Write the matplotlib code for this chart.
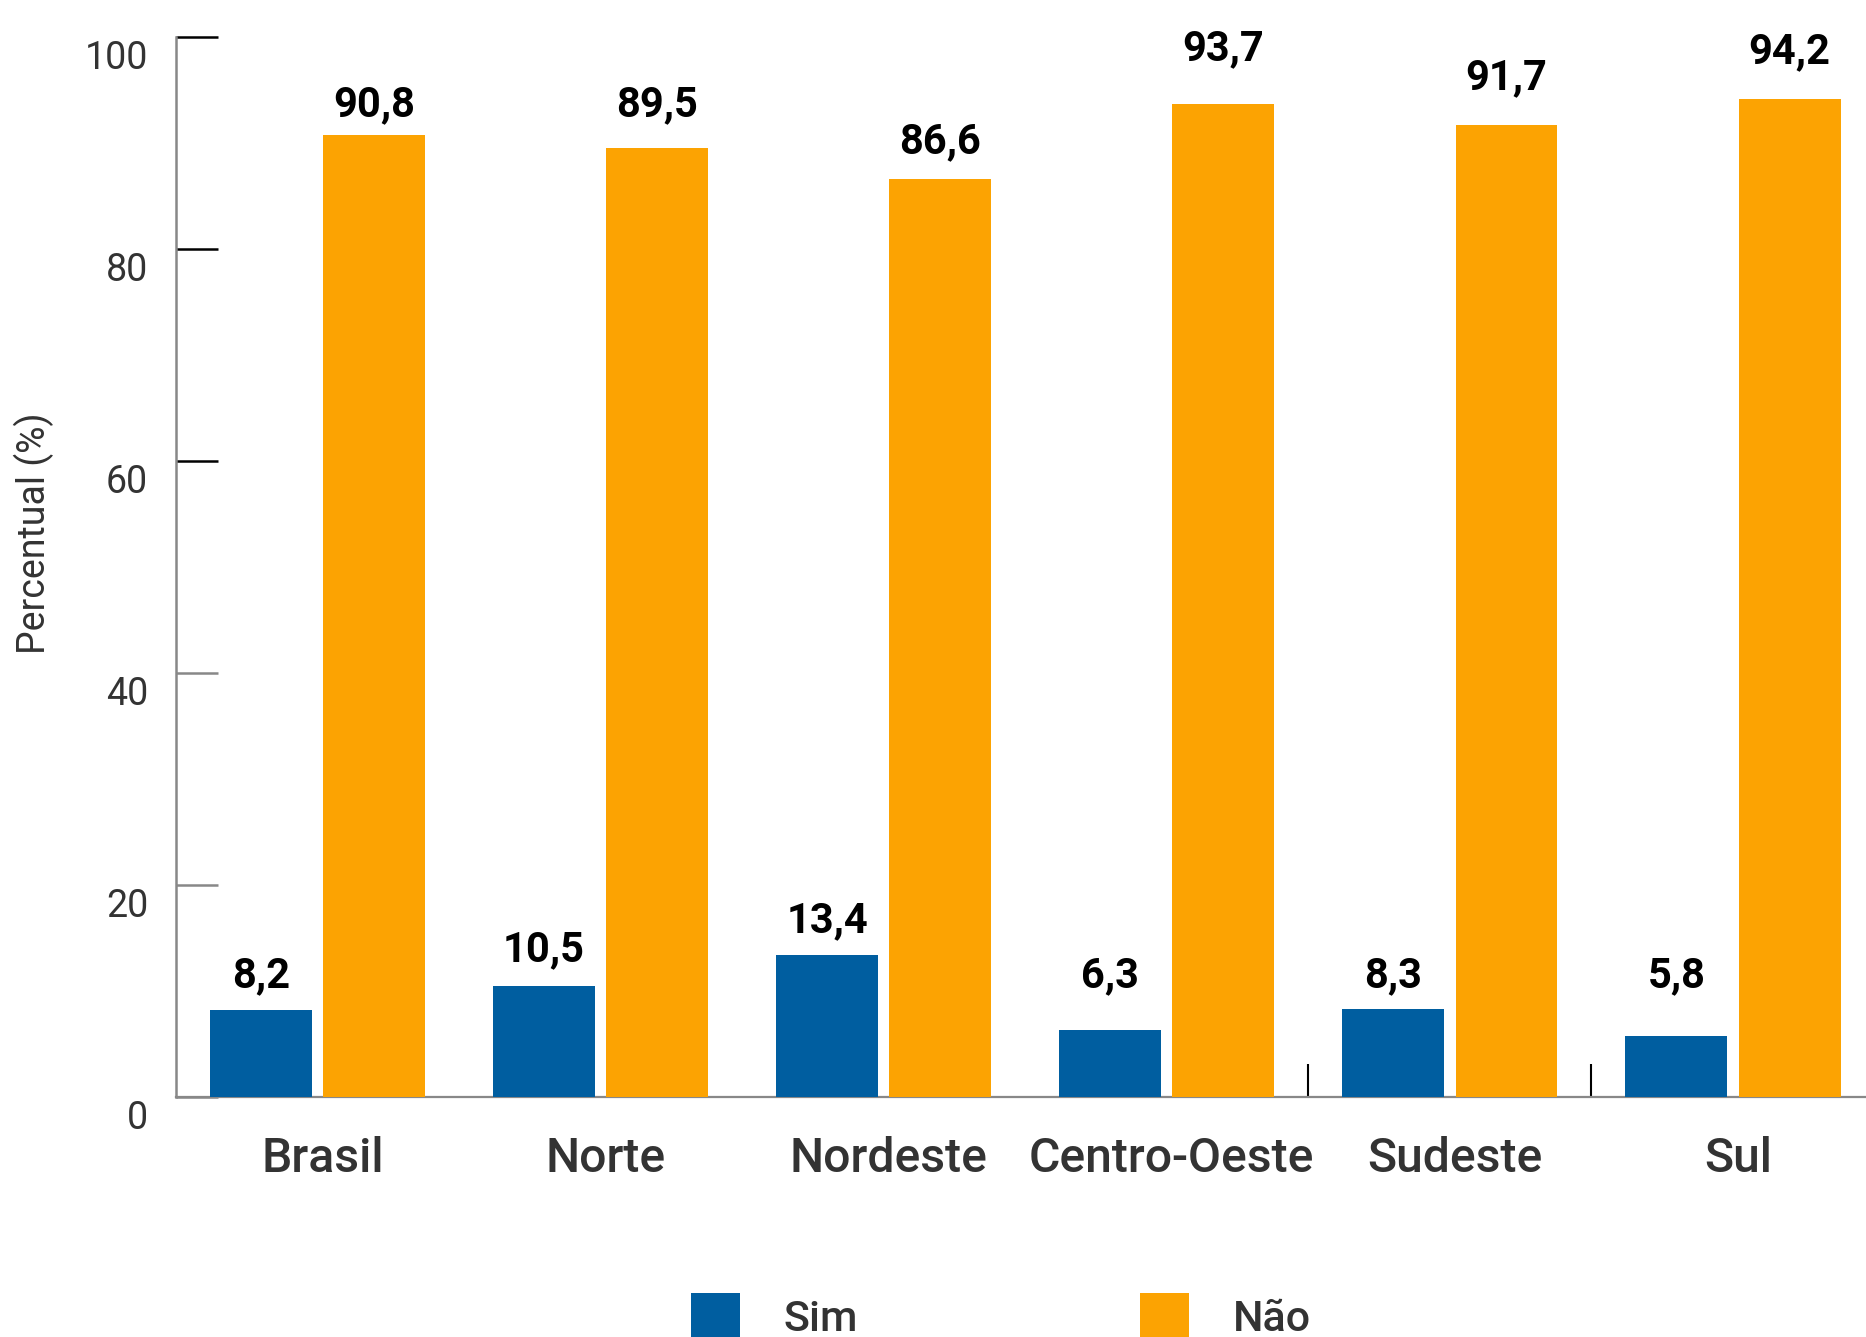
import matplotlib
matplotlib.use("Agg")
import matplotlib.pyplot as plt
import matplotlib.transforms as mtransforms
import numpy as np

plt.rcParams['font.family'] = ['Roboto', 'DejaVu Sans']

# data
regioes = ['Brasil', 'Norte', 'Nordeste', 'Centro-Oeste', 'Sudeste', 'Sul']
sim = [8.2, 10.5, 13.4, 6.3, 8.3, 5.8]
nao = [90.8, 89.5, 86.6, 93.7, 91.7, 94.2]
ticks_cinza = [0, 20, 40]
ticks_pretos = [60, 80, 100]

# distancia (pt) entre o topo da barra e o rotulo, como no original
desloc_sim = [16.6, 17.4, 16.6, 31.1, 15.7, 34.6]
desloc_nao = [13.1, 23.4, 18.3, 31.1, 26.0, 25.1]

cor_sim = '#005EA0'
cor_nao = '#FCA302'
cinza = '#333333'

fig = plt.figure(figsize=(18.66, 13.37), dpi=100)
ax = fig.add_axes([0.0943, 0.1795, 0.9057, 0.7928])

x = np.arange(len(regioes))
w = 0.36
b1 = ax.bar(x - 0.2, sim, w, color=cor_sim, label='Sim', zorder=3)
b2 = ax.bar(x + 0.2, nao, w, color=cor_nao, label='Não', zorder=3)

def rotular(barras, valores, desloc):
    for b, v, d in zip(barras, valores, desloc):
        ax.annotate(f'{v:.1f}'.replace('.', ','),
                    (b.get_x() + b.get_width() / 2, b.get_height()),
                    xytext=(0, d), textcoords='offset points',
                    ha='center', va='baseline', fontsize=30,
                    fontweight='bold', color='black')

rotular(b1, sim, desloc_sim)
rotular(b2, nao, desloc_nao)

ax.set_xlim(-0.5, 5.47)
ax.set_ylim(0, 100)

for s in ['top', 'right']:
    ax.spines[s].set_visible(False)
ax.spines['left'].set_color('#888888')
ax.spines['left'].set_linewidth(1.8)
ax.spines['bottom'].set_color('#888888')
ax.spines['bottom'].set_linewidth(1.6)

# ticks do eixo y: cinza em 0-40, pretos em 60-100
ax.set_yticks(ticks_cinza)
ax.set_yticklabels([str(t) for t in ticks_cinza])
ax.set_yticks(ticks_pretos, minor=True)
ax.set_yticklabels([str(t) for t in ticks_pretos], minor=True)
ax.tick_params(axis='y', which='major', direction='in', length=30, width=1.8,
               color='#888888', pad=20, labelsize=27, labelcolor=cinza)
ax.tick_params(axis='y', which='minor', direction='in', length=30, width=1.8,
               color='black', pad=20, labelsize=27, labelcolor=cinza)
desloca = mtransforms.ScaledTranslation(0, -0.17, fig.dpi_scale_trans)
for lab in ax.get_yticklabels() + ax.get_yticklabels(minor=True):
    lab.set_transform(lab.get_transform() + desloca)

ax.set_xticks(x)
ax.set_xticklabels(regioes, fontsize=34.7, fontweight='medium', color=cinza)
ax.tick_params(axis='x', length=0, pad=28)
desloca_x = mtransforms.ScaledTranslation(0.05, 0, fig.dpi_scale_trans)
for lab in ax.get_xticklabels():
    lab.set_transform(lab.get_transform() + desloca_x)
ax.set_xticks([3.5, 4.5], minor=True)
ax.tick_params(axis='x', which='minor', direction='in', length=24,
               width=1.5, color='black')

ax.set_ylabel('Percentual (%)', fontsize=27, color=cinza)
ax.yaxis.set_label_coords(-0.072, 0.532)

fig.legend(handles=[b1, b2], labels=['Sim', 'Não'], loc='center',
           bbox_to_anchor=(0.5364, 0.0155), ncol=2, frameon=False,
           prop={'size': 31, 'weight': 'medium'}, labelcolor=cinza,
           handlelength=1.14, handleheight=1.3, handletextpad=1.02,
           columnspacing=6.55, borderpad=0)

fig.savefig('out.png', dpi=100)
